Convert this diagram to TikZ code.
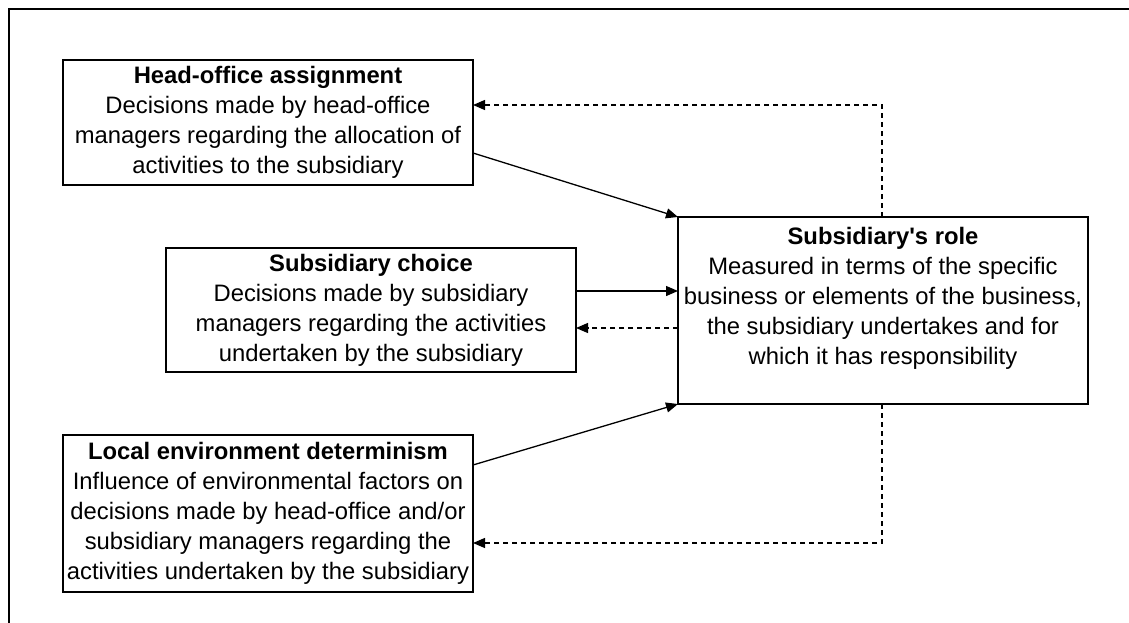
\documentclass[tikz,border=0pt]{standalone}
\usepackage{fontspec}
\setmainfont{Liberation Sans}
\usetikzlibrary{arrows.meta}
\begin{document}
\begin{tikzpicture}[x=1pt,y=-1pt,
  box/.style={draw, line width=2pt, rectangle, outer sep=0pt, inner sep=0pt,
    align=center, anchor=north west, font=\fontsize{23.8}{30}\selectfont},
  link/.style={line width=1.3pt, -{Triangle[length=12pt,width=10pt]}},
  back/.style={link, dash pattern=on 5pt off 4pt}]
\useasboundingbox (0,0) rectangle (1129,623);
\draw[line width=2.3pt] (9,623) -- (9,9) -- (1129,9);

\node[box, minimum width=410pt, minimum height=125pt] (head) at (63,60)
  {\textbf{Head-office assignment}\\Decisions made by head-office\\managers regarding the allocation of\\activities to the subsidiary};
\node[box, minimum width=410pt, minimum height=124pt] (choice) at (166,248)
  {\textbf{Subsidiary choice}\\Decisions made by subsidiary\\managers regarding the activities\\undertaken by the subsidiary};
\node[box, minimum width=410pt, minimum height=157pt] (local) at (63,435)
  {\textbf{Local environment determinism}\\Influence of environmental factors on\\decisions made by head-office and/or\\subsidiary managers regarding the\\activities undertaken by the subsidiary};
\node[box, minimum width=410pt, minimum height=187pt] (role) at (678,217)
  {\textbf{Subsidiary\textquotesingle s role}\\Measured in terms of the specific\\business or elements of the business,\\the subsidiary undertakes and for\\which it has responsibility\\\mbox{}};

\coordinate (hA) at (473,153);
\coordinate (hB) at (473,105);
\coordinate (rT) at (882,217);
\coordinate (cA) at (576,291);
\coordinate (rA) at (678,291);
\coordinate (rB) at (678,328);
\coordinate (cB) at (576,328);
\coordinate (lA) at (473,465);
\coordinate (rD) at (882,404);
\coordinate (lB) at (473,543);

\draw[link] (hA) -- (role.north west);
\draw[back] (rT) |- (hB);
\draw[link] (cA) -- (rA);
\draw[back] (rB) -- (cB);
\draw[link] (lA) -- (role.south west);
\draw[back] (rD) |- (lB);
\end{tikzpicture}
\end{document}
